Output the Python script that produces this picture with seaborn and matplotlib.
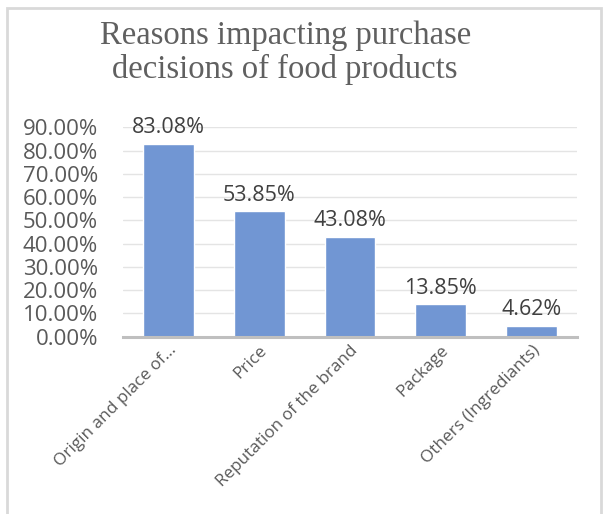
import matplotlib
matplotlib.use("Agg")
import matplotlib.pyplot as plt
import seaborn as sns
from matplotlib.patches import Rectangle
from matplotlib.ticker import FuncFormatter

# data
reasons = ["Origin and place of...", "Price", "Reputation of the brand",
           "Package", "Others (Ingrediants)"]
shares = [83.08, 53.85, 43.08, 13.85, 4.62]
y_ticks = [0, 10, 20, 30, 40, 50, 60, 70, 80, 90]

sns.set_theme(style="white")
plt.rcParams["font.family"] = ["Open Sans", "DejaVu Sans"]

fig = plt.figure(figsize=(6.03, 5.14), dpi=100)
ax = fig.add_axes([0.204, 0.345, 0.753, 0.407])

sns.barplot(x=reasons, y=shares, color="#7196d3", width=0.56,
            saturation=1, ax=ax)

for i, v in enumerate(shares):
    ax.text(i, v + 2.5, f"{v:.2f}%", ha="center", va="bottom",
            fontsize=15.5, color="#404040")

ax.set_ylim(0, 90)
ax.set_xlim(-0.5, 4.5)
ax.set_yticks(y_ticks)
ax.yaxis.set_major_formatter(FuncFormatter(lambda v, p: f"{v:.2f}%"))
ax.tick_params(axis="y", labelsize=16, labelcolor="#595959", length=0, pad=18)
ax.tick_params(axis="x", labelsize=12.3, labelcolor="#595959", length=0, pad=4)
plt.setp(ax.get_xticklabels(), rotation=45, ha="right", rotation_mode="anchor")

ax.grid(axis="y", color="#e4e4e4", linewidth=1)
ax.set_axisbelow(True)
for s in ["top", "right", "left"]:
    ax.spines[s].set_visible(False)
ax.spines["bottom"].set_color("#bfbfbf")
ax.spines["bottom"].set_linewidth(2.2)

fig.text(0.473, 0.897, "Reasons impacting purchase\ndecisions of food products",
         ha="center", va="center", fontsize=23.5, color="#606060",
         family=["Liberation Serif", "DejaVu Serif"], linespacing=1.12)

# outer chart frame
fig.patches.append(Rectangle((0.011, -0.05), 0.985, 1.035,
                             transform=fig.transFigure, fill=False,
                             edgecolor="#d9d9d9", linewidth=2))

fig.savefig("out.png", dpi=100)
